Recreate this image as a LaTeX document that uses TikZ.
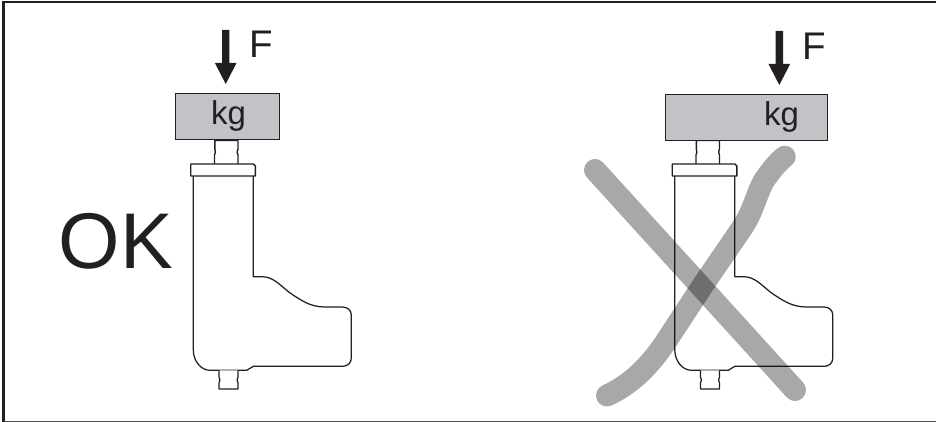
\documentclass[tikz,border=0pt]{standalone}
\usepackage{fontspec}
\setmainfont{Liberation Sans}
\definecolor{ink}{HTML}{231F20}
\definecolor{blockgray}{HTML}{C2C3C6}
\tikzset{
  outline/.style={draw=ink,line width=1.25pt,line join=round},
  thinline/.style={draw=ink,line width=1.4pt,fill=white,line join=round},
  blockbox/.style={draw=ink,line width=1.3pt,fill=blockgray,inner sep=0pt,anchor=north west},
  label/.style={inner sep=0pt,text=ink,anchor=base west},
  force/.style={fill=ink,draw=none},
  crossline/.style={draw=black,draw opacity=.34,line width=22pt,line cap=round,line join=round}
}
\newcommand{\bottle}[1]{%
  \begin{scope}[xshift=#1]
    % upper neck
    \draw[thinline] (214.5,164) -- (214.5,155) .. controls (215.6,152.5) .. (214.8,149) -- (214.8,140.5) -- (238,140.5) -- (238,149) .. controls (236.9,152.5) .. (238,155) -- (238,164);
    % body
    \draw[outline,fill=white] (193.3,176) -- (193.3,350) .. controls (193.3,361) and (201,370.3) .. (210,370.3)
      -- (246.7,370.3) -- (253.3,366.3) -- (342.7,366.3)
      .. controls (347.5,366.3) and (351.3,363) .. (351.3,358)
      -- (351.3,315) .. controls (351.3,310.5) and (347.5,307) .. (342.7,307)
      -- (325,307) .. controls (310,307) and (301,300) .. (293,295)
      .. controls (282,288) and (275,276.7) .. (262,276.7) -- (253.3,276.7) -- (253.3,176);
    % cap
    \draw[thinline] (190.7,164) -- (253.5,164) -- (255.3,166) -- (255.3,176) -- (190.7,176) -- cycle;
    % lower nozzle
    \draw[outline,fill=white] (219,370.3) -- (219,377) .. controls (220.2,380) .. (219,383) -- (219,389) -- (238,389) -- (238,383) .. controls (236.8,380) .. (238,377) -- (238,370.3);
  \end{scope}}
\begin{document}
\begin{tikzpicture}[x=1pt,y=-1pt]
\useasboundingbox (0,0) rectangle (936,422);
% frame
\draw[ink,line width=2.6pt] (3.6,422) -- (3.6,2.2) -- (936,2.2);
\draw[ink!80,line width=1.4pt] (3.6,421.6) -- (936,421.6);
% left figure
\bottle{0pt}
\node[blockbox,minimum width=104.3pt,minimum height=46pt] (blockL) at (174.7,93) {};
\fill[force] (222,30) -- (229.4,30) -- (229.4,63) -- (236.5,63) -- (225.7,84) -- (214.9,63) -- (222,63) -- cycle;
\node[label,font=\fontsize{38.5}{38.5}\selectfont] (forceL) at (249.5,58) {F};
\node[label,font=\fontsize{33}{33}\selectfont] (massL) at (211,125) {kg};
\node[label,font=\fontsize{79}{79}\selectfont] (okL) at (58.5,268.3) {OK};
% right figure
\bottle{481.5pt}
\node[blockbox,minimum width=161.7pt,minimum height=46pt] (blockR) at (665,94) {};
\fill[force] (775.6,31) -- (783,31) -- (783,64) -- (790.1,64) -- (779.3,85) -- (768.5,64) -- (775.6,64) -- cycle;
\node[label,font=\fontsize{38.5}{38.5}\selectfont] (forceR) at (802,60) {F};
\node[label,font=\fontsize{33}{33}\selectfont] (massR) at (764,125.5) {kg};
% cross
\draw[crossline] (595,170) -- (795,390);
\draw[crossline] (607,395.5) .. controls (632,384) and (650,365) .. (665,343)
  -- (703,285) -- (742,228) .. controls (756,207) and (757,188) .. (768,175)
  .. controls (773,168) and (779,161) .. (784.7,156.7);
\end{tikzpicture}
\end{document}
